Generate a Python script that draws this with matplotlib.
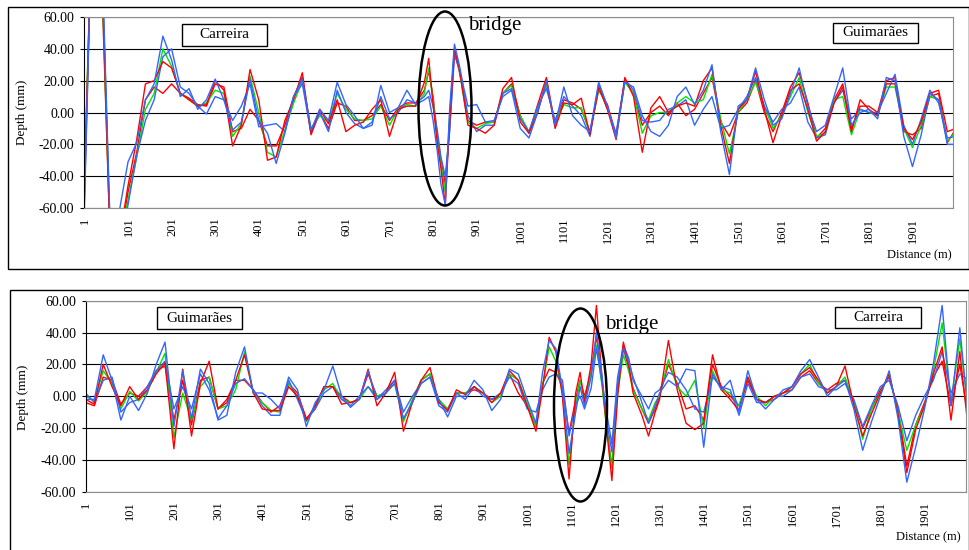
import matplotlib
matplotlib.use('Agg')
import matplotlib.pyplot as plt
from matplotlib.patches import Rectangle, Ellipse

plt.rcParams['font.family'] = ['Liberation Serif', 'DejaVu Serif']

# ---- data: top chart (Carreira -> Guimaraes) ----
top_x = list(range(0, 781, 20)) + [790, 800, 810, 818, 828, 838, 849, 860, 870, 880] + list(range(900, 2001, 20))

top_red1 = [-45, 150, 90, -90, -80, -46, -17, 18, 20, 32, 28, 12, 8, 4, 5, 20, 14, -21, -8, 27,
            8, -30, -28, -5, 8, 25, -13, 2, -7, 8, -12, -8, -6, 2, 8, -15, 2, 4, 4, 19,
            34, 5, -20, -35, -58, -5, 40, 28, 10, -8,
            -10, -13, -8, 15, 22, -6, -13, 0, 20, -10, 6, 5, 9, -14, 16, 2, -17, 22, 10, -25,
            3, 10, 0, 4, 6, 4, 20, 28, -8, -32, 2, 8, 26, 2, -19, -2, 14, 18, 2, -18,
            -12, 6, 16, -12, 8, 2, -2, 18, 18, -10, -17, -6, 12, 14, -12, -10]
top_red2 = [-50, 150, 80, -90, -85, -50, -25, 8, 16, 12, 18, 12, 9, 5, 4, 18, 16, -12, -10, 2,
            -5, -21, -21, -8, 10, 22, -14, 0, -10, 6, 4, -5, -5, -2, 5, -5, 3, 6, 6, 14,
            26, 10, -15, -30, -45, -10, 38, 26, 12, -5,
            -8, -6, -6, 12, 18, -2, -13, 5, 22, -8, 8, 6, 2, -12, 14, 5, -14, 20, 12, -8,
            0, 4, -2, 6, -2, 2, 12, 22, -6, -15, 0, 6, 20, 0, -12, 0, 16, 25, 6, -16,
            -10, 8, 18, -10, 4, 4, 0, 20, 22, -12, -14, -10, 10, 12, -19, -10]
top_green = [-40, 150, 85, -90, -85, -55, -28, 2, 12, 40, 29, 12, 8, 4, 6, 14, 12, -15, -7, 23,
             0, -25, -28, -11, 6, 20, -10, -2, -6, 12, 2, -4, -5, -4, 4, -8, 2, 5, 4, 12,
             28, 8, -18, -32, -50, -2, 40, 27, 10, -6,
             -10, -7, -6, 12, 17, -2, -12, 2, 17, -6, 5, 3, 3, -13, 15, 3, -15, 19, 12, -13,
             -2, 0, 0, 6, 10, 6, 8, 24, -4, -26, 0, 8, 19, 4, -10, -2, 10, 22, 0, -15,
             -13, 8, 10, -14, 2, 0, -2, 16, 16, -10, -22, -8, 10, 8, -18, -12]
top_blue1 = [-55, 150, 100, -80, -62, -31, -19, 8, 18, 48, 33, 10, 15, 2, 8, 21, 8, -11, -6, 21,
             -5, -13, -32, -13, 10, 21, -11, 2, -5, 19, 5, -2, -10, -8, 17, 0, 3, 14, 5, 8,
             10, -5, -25, -45, -58, 2, 43, 30, 16, 4,
             5, -6, -5, 10, 14, -10, -16, 0, 20, -8, 16, -2, -8, -12, 19, 4, -16, 19, 16, -2,
             -12, -15, -8, 10, 16, 5, 14, 30, -12, -39, 4, 8, 28, 8, -8, -4, 12, 28, 4, -12,
             -8, 10, 28, -8, 0, 2, -4, 22, 20, -15, -34, -14, 12, 8, -20, -20]
top_blue2 = [-60, 150, 95, -85, -90, -58, -27, -5, 8, 35, 40, 16, 12, 4, -1, 10, 8, -5, 4, 18,
             -9, -8, -7, -12, 10, 18, -13, 0, -12, 14, 0, -7, -10, -6, 10, -4, 0, 8, 6, 10,
             14, 4, -12, -28, -40, -12, 36, 28, 14, -2,
             -12, -8, -8, 12, 15, -4, -12, 4, 15, -5, 10, 4, -2, -15, 18, 2, -13, 21, 14, -5,
             -6, -5, 2, 4, 8, -8, 2, 10, -10, -8, 2, 10, 22, 4, -6, 2, 6, 16, -6, -16,
             -14, 6, 14, -4, 2, 0, 0, 12, 24, -8, -20, -4, 14, 6, -16, -15]

# ---- data: bottom chart (Guimaraes -> Carreira) ----
bot_x = list(range(0, 1021, 20)) + [1035, 1050, 1065, 1080, 1095, 1110, 1120, 1130, 1145, 1157,
                                    1170, 1180, 1192, 1205, 1218, 1230, 1240, 1260, 1275, 1290] + list(range(1300, 2001, 20))

bot_red1 = [-2, -5, 20, 6, -6, 6, -2, 4, 14, 21, -33, 17, -25, 8, 22, -8, -2, 10, 26, 2,
            -8, -9, -9, 6, 0, -15, -6, 6, 6, -5, -4, -2, 17, -6, 2, 15, -22, -4, 10, 18,
            -4, -9, 4, 1, 6, 2, -4, 2, 16, 10, -6, -22,
            5, 37, 28, 0, -52, 2, 15, -4, 20, 57, 10, -20, -53, 0, 34, 20, 2, -12, -25, -10,
            -2, 35, 4, -17, -21, -17, 26, 4, -2, -9, 12, -2, -4, 0, 2, 6, 14, 18, 10, 2,
            6, 19, -6, -25, -11, 2, 14, -11, -48, -21, -6, 14, 31, -15, 28, -23]
bot_red2 = [-4, -6, 12, 10, -5, 2, 0, 6, 16, 19, -15, 10, -18, 10, 12, -8, -4, 10, 10, 4,
            -4, -10, -6, 8, 2, -14, -8, 6, 6, 0, -4, -2, 14, 0, 2, 10, -15, -4, 10, 14,
            -4, -8, 2, 2, 4, 2, -2, 0, 14, 2, -6, -19,
            8, 17, 15, 6, -23, -2, 10, 0, 15, 38, 8, -18, -45, 5, 30, 18, 5, -8, -17, -8,
            0, 20, 8, -8, -6, -15, 20, 6, 0, -6, 10, -2, -4, -2, 2, 4, 12, 16, 8, 4,
            8, 10, -4, -20, -8, 4, 12, -8, -44, -18, -4, 12, 22, -6, 20, -15]
bot_green = [0, -3, 16, 8, -8, 3, -3, 3, 15, 27, -26, 2, -15, 6, 12, -8, -6, 4, 28, 2,
             -4, -9, -10, 8, 0, -16, -6, 4, 8, -2, -4, -2, 6, 0, 2, 8, -16, -2, 10, 14,
             -2, -8, 2, 2, 6, 2, -4, 0, 14, 10, -4, -19,
             6, 31, 22, 2, -43, -6, 10, -2, 14, 32, 6, -20, -45, 2, 26, 16, 4, -8, -15, -4,
             0, 23, 6, 0, 10, -20, 16, 4, 2, -6, 12, 0, -6, 0, 2, 6, 14, 20, 8, 2,
             6, 12, -4, -27, -8, 2, 14, -10, -34, -18, -6, 16, 46, -4, 36, -10]
bot_blue1 = [-2, -2, 26, 10, -15, 0, -9, 2, 20, 34, -19, 16, -14, 17, 8, -15, -12, 15, 31, 2,
             2, -2, -8, 12, 4, -19, -4, 4, 19, 0, -7, -2, 16, -2, 2, 8, -14, -4, 8, 12,
             -2, -13, 0, 0, 10, 4, -9, -2, 17, 14, -2, -17,
             15, 35, 30, 4, -36, -10, 6, -6, 12, 40, 12, -15, -35, 8, 30, 22, 12, -4, -17, -6,
             2, 10, 6, 17, 16, -32, 14, 4, 10, -10, 16, -2, -8, -2, 4, 6, 16, 23, 12, 0,
             6, 10, -8, -34, -16, 0, 16, -14, -54, -32, -8, 20, 57, -6, 43, -15]
bot_blue2 = [2, -4, 10, 12, -10, -4, -2, 6, 16, 22, -8, 6, -8, 14, 4, -14, -6, 8, 11, 4,
             -6, -12, -12, 10, -2, -15, -8, 2, 6, -2, -6, 0, 6, -2, 4, 10, -10, 0, 8, 12,
             -6, -10, 2, -2, 6, 0, -2, 2, 12, 8, -8, -10,
             4, 12, 14, 10, -25, -5, 0, -8, 5, 30, 8, -10, -30, 12, 32, 24, 10, 0, -8, 2,
             4, 15, 12, 4, -8, -10, 12, 6, 4, -12, 8, -4, -4, 0, 0, 4, 12, 14, 6, 4,
             4, 8, -2, -19, -6, 6, 10, -6, -28, -12, 0, 10, 28, 2, 14, 10]

y_ticks = [-60, -40, -20, 0, 20, 40, 60]
x_ticks = list(range(1, 2000, 100))

RED = '#ff0000'
GREEN = '#00e600'
BLUE = '#3366ff'

W, H = 970, 550


def fx(px):
    return px / W


def fy(py):
    return 1 - py / H


fig = plt.figure(figsize=(W / 100, H / 100), dpi=100)

# outer frames around each chart
fig.add_artist(Rectangle((fx(8), fy(269)), fx(969) - fx(8), fy(7) - fy(269),
                         transform=fig.transFigure, fill=False, lw=1, ec='black'))
fig.add_artist(Rectangle((fx(10), -0.1), fx(969) - fx(10), fy(290) + 0.1,
                         transform=fig.transFigure, fill=False, lw=1, ec='black'))


def make_axes(rect, xlim, x, series):
    ax = fig.add_axes(rect)
    for vals, col in series:
        ax.plot(x, vals, color=col, lw=1.0)
    ax.set_xlim(*xlim)
    ax.set_ylim(-60, 60)
    ax.set_yticks(y_ticks)
    ax.set_yticklabels([f'{v:.2f}' for v in y_ticks])
    ax.set_xticks(x_ticks)
    ax.set_xticklabels([str(v) for v in x_ticks], rotation=90)
    ax.yaxis.grid(True, color='black', lw=0.8)
    ax.set_axisbelow(True)
    for side in ['top', 'right', 'bottom']:
        ax.spines[side].set_color('#8c8c8c')
    ax.spines['left'].set_color('black')
    ax.tick_params(axis='y', direction='out', length=3, width=0.8, labelsize=10, pad=4)
    ax.tick_params(axis='x', length=0, labelsize=9, pad=7)
    return ax


ax1 = make_axes([fx(84), fy(208), fx(953) - fx(84), fy(17) - fy(208)], (-1, 1993), top_x,
                [(top_red2, RED), (top_green, GREEN), (top_blue2, BLUE),
                 (top_red1, RED), (top_blue1, BLUE)])
ax2 = make_axes([fx(86), fy(491.7), fx(966) - fx(86), fy(300.7) - fy(491.7)], (1, 1994), bot_x,
                [(bot_red2, RED), (bot_green, GREEN), (bot_blue2, BLUE),
                 (bot_red1, RED), (bot_blue1, BLUE)])

# axis titles
fig.text(fx(22), fy(112), 'Depth (mm)', rotation=90, ha='center', va='center', fontsize=9.5)
fig.text(fx(23), fy(397), 'Depth (mm)', rotation=90, ha='center', va='center', fontsize=9.5)
fig.text(fx(952), fy(255), 'Distance (m)', ha='right', va='center', fontsize=9)
fig.text(fx(961), fy(537), 'Distance (m)', ha='right', va='center', fontsize=9)


def label_box(x0, y0, x1, y1, txt):
    fig.add_artist(Rectangle((fx(x0), fy(y1)), fx(x1) - fx(x0), fy(y0) - fy(y1),
                             transform=fig.transFigure, fc='white', ec='black', lw=1, zorder=5))
    fig.text(fx((x0 + x1) / 2), fy((y0 + y1) / 2), txt, ha='center', va='center',
             fontsize=11, zorder=6)


label_box(182, 24, 267, 46, 'Carreira')
label_box(833, 23, 918, 43, 'Guimarães')
label_box(157, 307, 242, 329, 'Guimarães')
label_box(835, 307, 921, 328, 'Carreira')

# bridge markers
fig.add_artist(Ellipse((fx(445), fy(108.5)), 53 / W, 194 / H, transform=fig.transFigure,
                       fill=False, lw=1.8, ec='black', zorder=5))
fig.add_artist(Ellipse((fx(580.5), fy(405)), 53 / W, 193 / H, transform=fig.transFigure,
                       fill=False, lw=1.8, ec='black', zorder=5))
fig.text(fx(495), fy(30), 'bridge', ha='center', va='baseline', fontsize=15)
fig.text(fx(631.5), fy(328.5), 'bridge', ha='center', va='baseline', fontsize=15)

fig.savefig('out.png', dpi=100)
